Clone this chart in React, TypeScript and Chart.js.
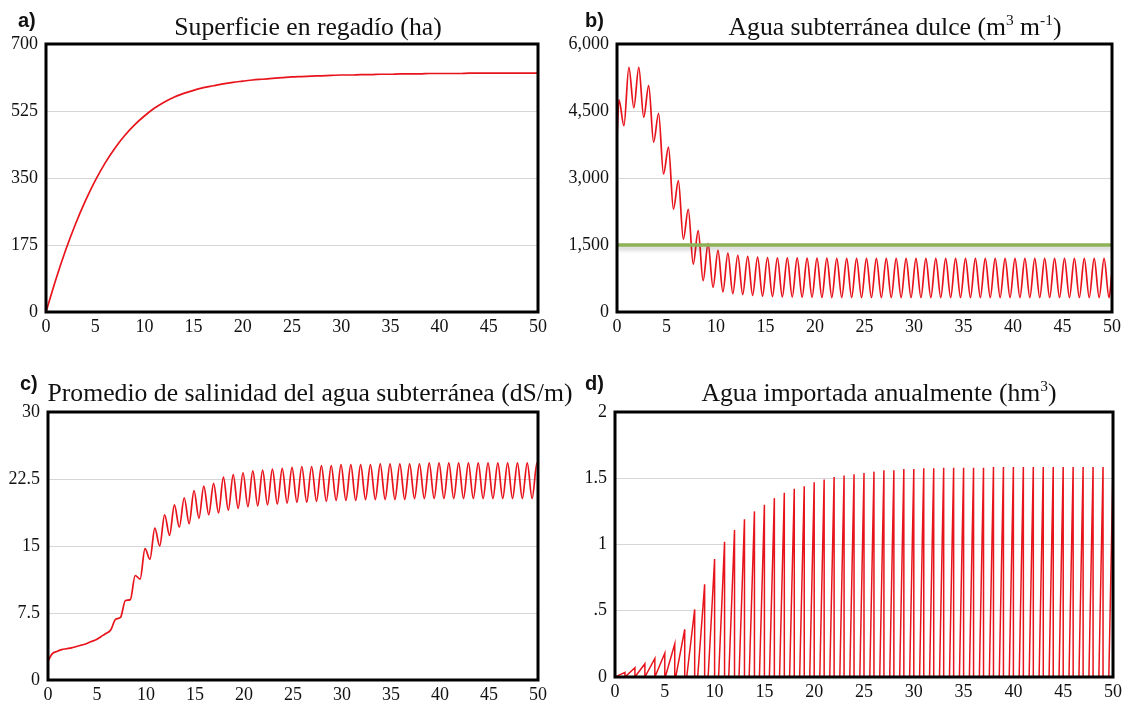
import React, { useEffect, useRef } from 'react';
import { Chart, registerables } from 'chart.js';

Chart.register(...registerables);

// ---------------- data ----------------
const xTickLabels = ['0', '5', '10', '15', '20', '25', '30', '35', '40', '45', '50'];

// a) Superficie en regadío (ha), one value per year 0..50
const areaHa = [
  0, 85, 162, 230, 290, 343, 389, 428, 461, 489, 512,
  532, 548, 561, 571, 579, 586, 591, 596, 600, 603,
  606, 608, 610, 612, 614, 615, 616, 617, 618, 619,
  619, 620, 620, 621, 621, 622, 622, 622, 623, 623,
  623, 623, 624, 624, 624, 624, 624, 624, 624, 624,
];
const areaTicks = ['0', '175', '350', '525', '700'];

// b) Agua subterránea dulce: start, yearly maxima / minima, end, threshold
const freshStart = 3900;
const freshEnd = 900;
const freshPeakPhase = 0.2;
const freshTroughPhase = 0.7;
const freshPeaks = [
  4750, 5480, 5480, 5070, 4450, 3690, 2940, 2300, 1820, 1530,
  1380, 1320, 1270, 1245, 1230, 1220, 1215, 1210, 1210, 1205,
  1205, 1205, 1200, 1200, 1200, 1200, 1200, 1200, 1200, 1200,
  1200, 1200, 1200, 1200, 1200, 1200, 1200, 1200, 1200, 1200,
  1200, 1200, 1200, 1200, 1200, 1200, 1200, 1200, 1200, 1200,
];
const freshTroughs = [
  4170, 4570, 4360, 3800, 3090, 2300, 1630, 1070, 700, 550,
  450, 410, 390, 370, 355, 345, 338, 333, 330, 327,
  325, 324, 323, 322, 321, 320, 320, 320, 320, 320,
  320, 320, 320, 320, 320, 320, 320, 320, 320, 320,
  320, 320, 320, 320, 320, 320, 320, 320, 320, 320,
];
const freshLimit = 1500;
const freshTicks = ['0', '1,500', '3,000', '4,500', '6,000'];

// c) Promedio de salinidad (dS/m): start, yearly minima / maxima, end
const salinityStart = 2.1;
const salinityEnd = 24.2;
const salinityTroughPhase = 0.4;
const salinityPeakPhase = 0.9;
const salinityTroughs = [
  2.9, 3.4, 3.6, 3.9, 4.3, 4.85, 5.6, 7.0, 9.0, 11.3,
  13.5, 15.0, 16.2, 17.1, 17.5, 18.1, 18.5, 18.7, 19.0, 19.2,
  19.4, 19.5, 19.6, 19.7, 19.8, 19.9, 19.9, 20.0, 20.0, 20.1,
  20.1, 20.1, 20.2, 20.2, 20.2, 20.2, 20.2, 20.3, 20.3, 20.3,
  20.3, 20.3, 20.3, 20.3, 20.3, 20.3, 20.3, 20.3, 20.3, 20.3,
];
const salinityPeaks = [
  3.2, 3.5, 3.75, 4.05, 4.5, 5.2, 6.8, 8.9, 11.7, 14.7,
  17.0, 18.5, 19.6, 20.4, 21.2, 21.7, 22.0, 22.7, 23.0, 23.2,
  23.4, 23.5, 23.6, 23.7, 23.8, 23.9, 23.9, 24.0, 24.0, 24.1,
  24.1, 24.1, 24.1, 24.2, 24.2, 24.2, 24.2, 24.2, 24.3, 24.3,
  24.3, 24.3, 24.3, 24.3, 24.3, 24.3, 24.3, 24.3, 24.3, 24.3,
];
const salinityTicks = ['0', '7.5', '15', '22.5', '30'];

// d) Agua importada anualmente (hm3): accumulated volume at the end of each year,
//    and the fraction of the year at which importing starts
const importPeaks = [
  0.035, 0.07, 0.10, 0.14, 0.18, 0.25, 0.36, 0.51, 0.70, 0.89,
  1.02, 1.11, 1.19, 1.25, 1.30, 1.35, 1.39, 1.42, 1.44, 1.47,
  1.49, 1.51, 1.52, 1.53, 1.54, 1.55, 1.56, 1.56, 1.57, 1.57,
  1.575, 1.575, 1.58, 1.58, 1.58, 1.58, 1.58, 1.585, 1.585, 1.585,
  1.585, 1.585, 1.585, 1.585, 1.585, 1.585, 1.585, 1.585, 1.585, 1.585,
];
const importStart = [
  0, 0, 0, 0, 0, 0.05, 0.1, 0.2, 0.3, 0.35,
  0.4, 0.42, 0.45, 0.47, 0.5, 0.5, 0.52, 0.53, 0.54, 0.55,
  0.56, 0.56, 0.57, 0.57, 0.58, 0.58, 0.58, 0.58, 0.58, 0.58,
  0.58, 0.58, 0.58, 0.58, 0.58, 0.58, 0.58, 0.58, 0.58, 0.58,
  0.58, 0.58, 0.58, 0.58, 0.58, 0.58, 0.58, 0.58, 0.58, 0.58,
];
const importTicks = ['0', '.5', '1', '1.5', '2'];

// ---------------- build series ----------------
const RED = '#e8141c';

const areaPoints = areaHa.map((v, i) => ({ x: i, y: v }));

const freshPoints: { x: number; y: number }[] = [{ x: 0, y: freshStart }];
freshPeaks.forEach((p, n) => {
  freshPoints.push({ x: n + freshPeakPhase, y: p });
  freshPoints.push({ x: n + freshTroughPhase, y: freshTroughs[n] });
});
freshPoints.push({ x: 50, y: freshEnd });

const salinityPoints: { x: number; y: number }[] = [{ x: 0, y: salinityStart }];
salinityTroughs.forEach((t, n) => {
  salinityPoints.push({ x: n + salinityTroughPhase, y: t });
  salinityPoints.push({ x: n + salinityPeakPhase, y: salinityPeaks[n] });
});
salinityPoints.push({ x: 50, y: salinityEnd });

const importPoints: { x: number; y: number }[] = [];
importPeaks.forEach((p, n) => {
  importPoints.push({ x: n, y: 0 });
  if (importStart[n] > 0) importPoints.push({ x: n + importStart[n], y: 0 });
  importPoints.push({ x: n + 1, y: p });
});

// ---------------- chart helpers ----------------
const SERIF = "'Liberation Serif', 'Times New Roman', serif";
const PAD_TOP = 12;
const PAD_RIGHT = 14;
const X_AXIS_H = 30;

const framePlugin = {
  id: 'frame',
  afterDraw(chart: any) {
    const { ctx, chartArea: a } = chart;
    ctx.save();
    ctx.strokeStyle = '#000';
    ctx.lineWidth = 3;
    ctx.strokeRect(a.left, a.top, a.right - a.left, a.bottom - a.top);
    ctx.restore();
  },
};

// soft shadow under datasets flagged with `shadow: true`
const shadowPlugin = {
  id: 'softShadow',
  beforeDatasetDraw(chart: any, args: any) {
    const ds = chart.data.datasets[args.index];
    if (!ds.shadow) return;
    const ctx = chart.ctx;
    ctx.save();
    ctx.shadowColor = 'rgba(0,0,0,0.22)';
    ctx.shadowBlur = 4;
    ctx.shadowOffsetY = 3;
  },
  afterDatasetDraw(chart: any, args: any) {
    const ds = chart.data.datasets[args.index];
    if (!ds.shadow) return;
    chart.ctx.restore();
  },
};

type Box = { left: number; top: number; right: number; bottom: number };

function Panel(props: {
  box: Box;
  yAxisW: number;
  datasets: any[];
  yMax: number;
  yStep: number;
  yTicks: string[];
}) {
  const { box, yAxisW, datasets, yMax, yStep, yTicks } = props;
  const ref = useRef<HTMLCanvasElement | null>(null);
  const left = box.left - yAxisW;
  const top = box.top - PAD_TOP;
  const width = box.right + PAD_RIGHT - left;
  const height = box.bottom + X_AXIS_H - top;

  useEffect(() => {
    if (!ref.current) return;
    const font = { family: SERIF, size: 18 };
    const chart = new Chart(ref.current, {
      type: 'line',
      data: { datasets },
      options: {
        responsive: false,
        animation: false,
        events: [],
        layout: { padding: { top: PAD_TOP, right: PAD_RIGHT, left: 0, bottom: 0 } },
        plugins: {
          legend: { display: false },
          tooltip: { enabled: false },
          title: { display: false },
        },
        elements: { point: { radius: 0 } },
        scales: {
          x: {
            type: 'linear',
            min: 0,
            max: 50,
            grid: { display: false, drawTicks: false },
            border: { display: false },
            afterFit: (s: any) => {
              s.height = X_AXIS_H;
              s.paddingLeft = 0;
              s.paddingRight = 0;
            },
            ticks: {
              stepSize: 5,
              autoSkip: false,
              maxRotation: 0,
              padding: 4,
              color: '#111',
              font,
              callback: (_v: any, i: number) => xTickLabels[i],
            },
          },
          y: {
            min: 0,
            max: yMax,
            grid: { color: '#d6d6d6', drawTicks: false, lineWidth: 1 },
            border: { display: false },
            afterFit: (s: any) => {
              s.width = yAxisW;
              s.paddingTop = 0;
              s.paddingBottom = 0;
            },
            ticks: {
              stepSize: yStep,
              padding: 8,
              color: '#111',
              font,
              callback: (_v: any, i: number) => yTicks[i],
            },
          },
        },
      } as any,
      plugins: [shadowPlugin, framePlugin],
    });
    return () => chart.destroy();
  }, []);

  return (
    <canvas
      ref={ref}
      width={width}
      height={height}
      style={{ position: 'absolute', left, top, width, height }}
    />
  );
}

const titleBase: React.CSSProperties = {
  position: 'absolute',
  fontFamily: SERIF,
  fontSize: 25.7,
  lineHeight: '25px',
  color: '#111',
  whiteSpace: 'nowrap',
  textAlign: 'center',
  width: 800,
};
const supStyle: React.CSSProperties = { fontSize: '0.6em', verticalAlign: 'super', lineHeight: 0 };
const tagBase: React.CSSProperties = {
  position: 'absolute',
  fontFamily: "'Liberation Sans', Arial, sans-serif",
  fontWeight: 'bold',
  fontSize: 20,
  lineHeight: '20px',
  color: '#111',
  whiteSpace: 'nowrap',
};

export default function App() {
  const redLine = (data: any[], monotone: boolean, width = 1.7) => ({
    data,
    borderColor: RED,
    borderWidth: width,
    pointRadius: 0,
    fill: false,
    tension: monotone ? 0.4 : 0,
    cubicInterpolationMode: monotone ? 'monotone' : 'default',
  });

  return (
    <div
      style={{
        position: 'absolute',
        left: 0,
        top: 0,
        width: 1128,
        height: 705,
        background: '#fff',
        overflow: 'hidden',
      }}
    >
      <Panel
        box={{ left: 46, top: 44, right: 538, bottom: 312 }}
        yAxisW={46}
        yMax={700}
        yStep={175}
        yTicks={areaTicks}
        datasets={[redLine(areaPoints, true)]}
      />
      <Panel
        box={{ left: 617, top: 44, right: 1112, bottom: 312 }}
        yAxisW={56}
        yMax={6000}
        yStep={1500}
        yTicks={freshTicks}
        datasets={[
          {
            data: [
              { x: 0, y: freshLimit },
              { x: 50, y: freshLimit },
            ],
            borderColor: '#8db255',
            borderWidth: 3.5,
            pointRadius: 0,
            fill: false,
            shadow: true,
          },
          redLine(freshPoints, true),
        ]}
      />
      <Panel
        box={{ left: 48, top: 412, right: 538, bottom: 680 }}
        yAxisW={46}
        yMax={30}
        yStep={7.5}
        yTicks={salinityTicks}
        datasets={[redLine(salinityPoints, true)]}
      />
      <Panel
        box={{ left: 615, top: 412, right: 1113, bottom: 677 }}
        yAxisW={56}
        yMax={2}
        yStep={0.5}
        yTicks={importTicks}
        datasets={[redLine(importPoints, false, 1.5)]}
      />

      <div style={{ ...titleBase, left: 308 - 400, top: 14 }}>Superficie en regadío (ha)</div>
      <div style={{ ...titleBase, left: 895 - 400, top: 14 }}>
        Agua subterránea dulce (m<sup style={supStyle}>3</sup> m<sup style={supStyle}>-1</sup>)
      </div>
      <div style={{ ...titleBase, left: 310 - 400, top: 380 }}>
        Promedio de salinidad del agua subterránea (dS/m)
      </div>
      <div style={{ ...titleBase, left: 879 - 400, top: 380 }}>
        Agua importada anualmente (hm<sup style={supStyle}>3</sup>)
      </div>

      <div style={{ ...tagBase, left: 18, top: 10 }}>a)</div>
      <div style={{ ...tagBase, left: 585, top: 10 }}>b)</div>
      <div style={{ ...tagBase, left: 20, top: 373 }}>c)</div>
      <div style={{ ...tagBase, left: 585, top: 373 }}>d)</div>
    </div>
  );
}
